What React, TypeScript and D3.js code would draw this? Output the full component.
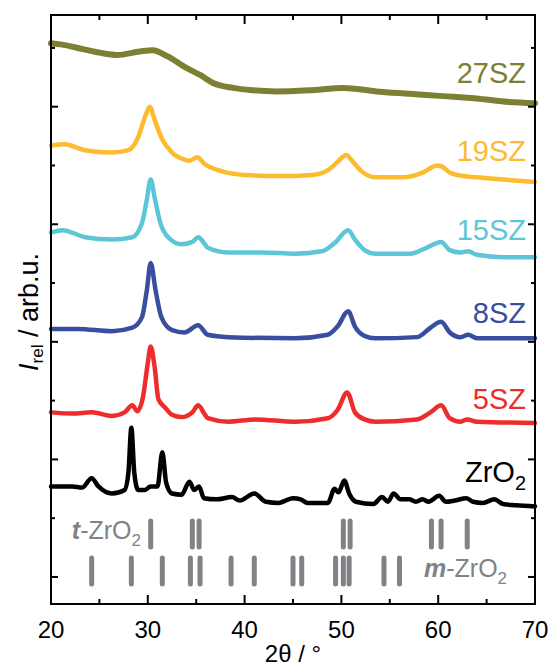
import React from 'react';
import * as d3 from 'd3';

// 2theta (deg) / stacked relative intensity (arb. u.)
const zro2 = [
  [20.0, 7.7], [22.2, 7.7], [23.2, 7.6], [24.2, 8.4], [24.9, 7.7], [26.3, 7.1], [27.6, 7.4],
  [28.0, 8.9], [28.3, 12.7], [28.6, 8.9], [29.0, 7.4], [29.7, 7.4], [30.3, 7.7], [31.0, 7.7],
  [31.5, 10.6], [31.9, 8.0], [32.5, 7.1], [33.5, 7.0], [34.3, 8.1], [34.8, 7.4], [35.3, 7.7],
  [35.8, 6.7], [37.1, 6.6], [38.7, 6.8], [39.5, 6.5], [41.0, 7.1], [42.2, 6.4], [43.5, 6.3],
  [45.0, 6.7], [45.8, 6.6], [46.5, 6.3], [48.6, 6.3], [49.3, 7.5], [49.7, 7.2], [50.3, 8.2],
  [50.8, 7.1], [51.5, 6.4], [53.3, 6.2], [54.2, 6.8], [54.8, 6.4], [55.4, 7.1], [56.1, 6.6],
  [57.0, 6.6], [57.7, 6.4], [58.4, 6.6], [59.0, 6.4], [60.1, 6.9], [60.8, 6.4], [61.7, 6.5],
  [62.9, 6.7], [63.6, 6.4], [64.6, 6.3], [65.8, 6.6], [66.7, 6.2], [68.0, 6.1], [70.0, 6.0],
];
const sz5 = [
  [20.0, 14.0], [22.2, 13.9], [24.2, 14.0], [26.3, 13.7], [27.6, 14.0], [28.4, 14.6], [28.9, 14.1],
  [29.5, 15.3], [30.0, 18.2], [30.3, 19.6], [30.7, 17.9], [31.1, 15.1], [31.8, 14.4], [32.5, 13.8],
  [33.5, 13.6], [34.6, 14.0], [35.2, 14.6], [35.9, 13.8], [36.2, 13.5], [38.3, 13.2], [41.1, 13.4],
  [45.2, 13.2], [48.6, 13.5], [49.6, 14.2], [50.6, 15.7], [51.4, 14.0], [52.4, 13.4], [53.5, 13.2],
  [57.8, 13.4], [59.2, 14.0], [60.3, 14.6], [61.2, 13.5], [62.3, 13.2], [63.0, 13.4], [64.0, 13.2],
  [70.0, 13.1],
];
const sz8 = [
  [20.0, 21.1], [22.8, 21.1], [26.3, 20.9], [28.4, 21.2], [29.4, 22.1], [29.9, 24.4], [30.3, 26.7],
  [30.8, 24.4], [31.4, 22.1], [32.5, 21.0], [33.8, 20.8], [35.2, 21.4], [36.2, 20.6], [38.3, 20.4],
  [45.2, 20.3], [48.6, 20.6], [49.6, 21.3], [50.7, 22.6], [51.4, 21.3], [52.4, 20.5], [53.5, 20.3],
  [57.8, 20.4], [59.2, 21.2], [60.3, 21.7], [61.2, 20.8], [62.3, 20.4], [63.1, 20.6], [64.0, 20.3],
  [70.0, 20.3],
];
const sz15 = [
  [20.0, 29.3], [21.2, 29.5], [23.5, 28.9], [26.3, 28.7], [28.4, 28.9], [29.4, 30.1], [29.9, 32.1],
  [30.3, 33.8], [30.7, 32.3], [31.3, 30.1], [32.1, 28.9], [33.5, 28.3], [34.6, 28.5], [35.2, 28.9],
  [35.9, 28.3], [36.2, 28.0], [38.3, 27.6], [41.8, 27.6], [45.2, 27.5], [48.0, 27.7], [49.3, 28.4],
  [50.7, 29.5], [51.4, 28.7], [52.4, 27.8], [53.5, 27.5], [57.1, 27.5], [58.8, 28.0], [60.3, 28.5],
  [61.2, 27.8], [62.3, 27.6], [63.1, 27.7], [64.0, 27.4], [66.7, 27.2], [70.0, 27.2],
];
const sz19 = [
  [20.0, 36.7], [21.4, 36.8], [23.5, 36.3], [26.3, 36.1], [28.0, 36.3], [29.0, 37.4], [29.7, 39.1],
  [30.2, 40.0], [30.7, 38.9], [31.5, 37.2], [32.5, 36.1], [33.8, 35.5], [34.3, 35.4], [35.1, 35.7],
  [35.9, 35.1], [37.7, 34.5], [40.0, 34.2], [43.5, 34.1], [47.0, 34.2], [48.6, 34.6], [49.6, 35.3],
  [50.5, 35.9], [51.2, 35.3], [52.1, 34.5], [53.5, 34.0], [56.4, 34.0], [58.4, 34.4], [59.9, 35.0],
  [60.4, 34.9], [61.2, 34.4], [62.6, 34.1], [64.0, 34.0], [66.7, 33.8], [70.0, 33.6],
];
const sz27 = [
  [20.0, 45.4], [21.0, 45.3], [23.3, 44.9], [25.0, 44.6], [26.8, 44.4], [29.2, 44.7], [30.5, 44.8],
  [32.0, 44.3], [34.0, 43.3], [35.4, 42.7], [36.8, 42.0], [38.8, 41.6], [40.9, 41.4], [43.2, 41.3],
  [46.7, 41.4], [50.2, 41.6], [53.6, 41.3], [57.0, 41.1], [60.5, 40.9], [63.9, 40.7], [67.3, 40.4],
  [70.0, 40.3],
];

// reference reflections
const tZrO2 = [30.3, 34.6, 35.3, 50.2, 50.9, 59.3, 60.3, 63.0];
const mZrO2 = [24.2, 28.3, 31.5, 34.4, 35.4, 38.6, 41.0, 45.0, 45.9, 49.4, 50.2, 50.8, 54.4, 56.0];

const xTickValues = [20, 30, 40, 50, 60, 70];

const series = [
  { name: 'ZrO2', data: zro2, color: '#000000', width: 4.5, labelY: 8.1 },
  { name: '5SZ', data: sz5, color: '#ee2c2c', width: 4.5, labelY: 14.3 },
  { name: '8SZ', data: sz8, color: '#3a4ea0', width: 4.5, labelY: 21.6 },
  { name: '15SZ', data: sz15, color: '#5cc6d7', width: 4.5, labelY: 28.7 },
  { name: '19SZ', data: sz19, color: '#fdbb2f', width: 4.5, labelY: 35.4 },
  { name: '27SZ', data: sz27, color: '#7b8033', width: 6, labelY: 42.0 },
];

const font = '"Liberation Sans", Arial, sans-serif';
const grey = '#808285';

const App = () => {
  const width = 552;
  const height = 668;
  const left = 51, right = 535, top = 15, bottom = 604;

  const x = d3.scaleLinear().domain([20, 70]).range([left, right]);
  const y = d3.scaleLinear().domain([-2.3, 47.8]).range([bottom, top]);

  const line = d3.line()
    .x(d => x(d[0]))
    .y(d => y(d[1]))
    .curve(d3.curveMonotoneX);

  const xMinor = d3.range(25, 70, 10);
  const yTicks = d3.range(0, 46, 5);

  const tRow = [2.55, 4.77];
  const mRow = [-0.6, 1.62];

  return (
    <div style={{ position: 'absolute', left: 0, top: 0 }}>
      <svg width={width} height={height} style={{ display: 'block', background: '#fff' }}>
        {/* data curves */}
        {series.map((s, i) => (
          <path key={i} d={line(s.data)} fill='none' stroke={s.color}
            strokeWidth={s.width} strokeLinejoin='round' strokeLinecap='round' />
        ))}

        {/* reflection markers */}
        {tZrO2.map((t, i) => (
          <line key={'t' + i} x1={x(t)} x2={x(t)} y1={y(tRow[0])} y2={y(tRow[1])}
            stroke={grey} strokeWidth={5} strokeLinecap='round' />
        ))}
        {mZrO2.map((t, i) => (
          <line key={'m' + i} x1={x(t)} x2={x(t)} y1={y(mRow[0])} y2={y(mRow[1])}
            stroke={grey} strokeWidth={5} strokeLinecap='round' />
        ))}
        <text x={141} y={539} textAnchor='end' fontFamily={font} fontSize={25} fill={grey}>
          <tspan fontStyle='italic' fontWeight='bold'>t</tspan>-ZrO<tspan fontSize={17} dy={7}>2</tspan>
        </text>
        <text x={424} y={577} fontFamily={font} fontSize={25} fill={grey}>
          <tspan fontStyle='italic' fontWeight='bold'>m</tspan>-ZrO<tspan fontSize={17} dy={7}>2</tspan>
        </text>

        {/* sample labels */}
        {series.map((s, i) => (
          <text key={'l' + i} x={526} y={y(s.labelY)} textAnchor='end'
            fontFamily={font} fontSize={29} fill={s.color}>
            {s.name === 'ZrO2'
              ? (<>ZrO<tspan fontSize={20} dy={8}>2</tspan></>)
              : s.name}
          </text>
        ))}

        {/* frame */}
        <rect x={left} y={top} width={right - left} height={bottom - top}
          fill='none' stroke='#000' strokeWidth={2} />
        {xTickValues.map((t, i) => (
          <g key={'xt' + i}>
            <line x1={x(t)} x2={x(t)} y1={bottom} y2={bottom - 9} stroke='#000' strokeWidth={2} />
            <line x1={x(t)} x2={x(t)} y1={top} y2={top + 9} stroke='#000' strokeWidth={2} />
            <text x={x(t)} y={638} textAnchor='middle' fontFamily={font} fontSize={24}>{t}</text>
          </g>
        ))}
        {xMinor.map((t, i) => (
          <g key={'xm' + i}>
            <line x1={x(t)} x2={x(t)} y1={bottom} y2={bottom - 5} stroke='#000' strokeWidth={2} />
            <line x1={x(t)} x2={x(t)} y1={top} y2={top + 5} stroke='#000' strokeWidth={2} />
          </g>
        ))}
        {yTicks.map((t, i) => {
          const len = t % 10 === 0 ? 7 : 4;
          return (
            <g key={'yt' + i}>
              <line x1={left} x2={left + len} y1={y(t)} y2={y(t)} stroke='#000' strokeWidth={2} />
              <line x1={right} x2={right - len} y1={y(t)} y2={y(t)} stroke='#000' strokeWidth={2} />
            </g>
          );
        })}

        {/* axis titles */}
        <text x={(left + right) / 2} y={662} textAnchor='middle' fontFamily={font} fontSize={24}>
          2θ / °
        </text>
        <text transform='translate(38,371) rotate(-90)'
          fontFamily={font} fontSize={27}>
          <tspan fontStyle='italic'>I</tspan><tspan fontSize={17} dy={5}>rel</tspan><tspan dy={-5}> / arb.u.</tspan>
        </text>
      </svg>
    </div>
  );
};

export default App;
